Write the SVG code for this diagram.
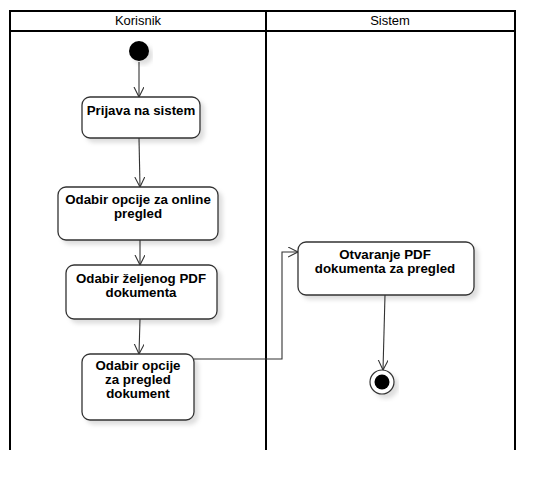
<svg xmlns="http://www.w3.org/2000/svg" width="554" height="490" viewBox="0 0 554 490">
<style>
.lane{fill:none;stroke:#000;stroke-width:2}
.hdr{font-family:"Liberation Sans",Arial,sans-serif;font-size:13px;fill:#000;text-anchor:middle}
.act{fill:#fff;stroke:#333;stroke-width:1.3;filter:url(#sh)}
.lbl{font-family:"Liberation Sans",Arial,sans-serif;font-size:13.3px;font-weight:bold;fill:#000;text-anchor:middle}
.con{fill:none;stroke:#333;stroke-width:1.1;marker-end:url(#arr)}
</style>
<defs>
<filter id="sh" x="-10%" y="-10%" width="130%" height="140%">
<feDropShadow dx="4" dy="4" stdDeviation="2" flood-color="#000" flood-opacity="0.13"/>
</filter>
<marker id="arr" markerWidth="12" markerHeight="12" refX="10" refY="5" orient="auto" markerUnits="userSpaceOnUse">
<path d="M0,0 L10,5 L0,10" fill="none" stroke="#333" stroke-width="1.1"/>
</marker>
</defs>
<rect width="554" height="490" fill="#fff"/>
<g id="swimlanes">
<path class="lane" d="M10,450 V11 H515 V450 M10,31 H515 M266,11 V450"/>
<text class="hdr" x="138" y="25">Korisnik</text>
<text class="hdr" x="390" y="25">Sistem</text>
</g>
<g id="connectors">
<path class="con" d="M139,62 V97"/>
<path class="con" d="M139,138 L140,187"/>
<path class="con" d="M140,240 V265"/>
<path class="con" d="M140,319 L139,354"/>
<path class="con" d="M194,359 H282 V252 H298"/>
<path class="con" d="M385,295 L383,370"/>
</g>
<g id="start">
<circle cx="139" cy="51" r="10" fill="#000" filter="url(#sh)"/>
</g>
<g id="prijava">
<rect class="act" x="82" y="97" width="118" height="41" rx="8"/>
<text class="lbl" x="141" y="115">Prijava na sistem</text>
</g>
<g id="odabir-online">
<rect class="act" x="58" y="187" width="160" height="53" rx="8"/>
<text class="lbl" x="138" y="204">Odabir opcije za online</text>
<text class="lbl" x="138" y="218">pregled</text>
</g>
<g id="odabir-pdf">
<rect class="act" x="66" y="265" width="151" height="54" rx="8"/>
<text class="lbl" x="141" y="283">Odabir željenog PDF</text>
<text class="lbl" x="141" y="297">dokumenta</text>
</g>
<g id="odabir-pregled">
<rect class="act" x="82" y="354" width="112" height="66" rx="8"/>
<text class="lbl" x="138" y="370">Odabir opcije</text>
<text class="lbl" x="138" y="384">za pregled</text>
<text class="lbl" x="138" y="398">dokument</text>
</g>
<g id="otvaranje">
<rect class="act" x="298" y="242" width="176" height="53" rx="8"/>
<text class="lbl" x="385" y="259">Otvaranje PDF</text>
<text class="lbl" x="385" y="273">dokumenta za pregled</text>
</g>
<g id="end">
<circle cx="382" cy="382" r="12" fill="#fff" stroke="#333" stroke-width="1.2" filter="url(#sh)"/>
<circle cx="382" cy="382" r="7.5" fill="#000"/>
</g>
</svg>
